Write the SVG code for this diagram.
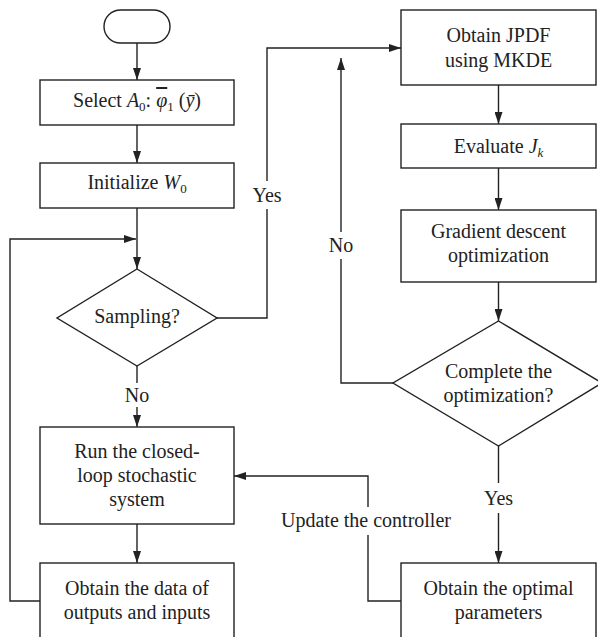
<svg xmlns="http://www.w3.org/2000/svg" width="598" height="637" viewBox="0 0 598 637">
<defs>
<marker id="ah" viewBox="0 0 12 8" refX="12" refY="4" markerWidth="12" markerHeight="8" markerUnits="userSpaceOnUse" orient="auto">
<path d="M0,0 L12,4 L0,8 Z" fill="#222"/>
</marker>
<style>
.s{fill:#fff;stroke:#222;stroke-width:1.4}
.c{fill:none;stroke:#222;stroke-width:1.4}
.a{marker-end:url(#ah)}
text{font-family:"Liberation Serif","Times New Roman",serif;font-size:20px;fill:#222;text-anchor:middle}
.i{font-style:italic}
.sub{font-size:13px}
.ov{text-decoration:overline}
</style>
</defs>
<rect width="598" height="637" fill="#fff"/>
<g id="connectors">
<path class="c a" d="M137,43 V80"/>
<path class="c a" d="M137,125 V163"/>
<path class="c a" d="M137,208 V269"/>
<path class="c a" d="M40,601 H10 V239 H136"/>
<path class="c" d="M217,318 H267 V209"/>
<path class="c a" d="M267,181 V48 H401"/>
<path class="c" d="M137,366 V383"/>
<path class="c a" d="M137,407 V427"/>
<path class="c a" d="M137,524 V563"/>
<path class="c a" d="M498.5,85 V124"/>
<path class="c a" d="M498.5,168 V210"/>
<path class="c a" d="M498.5,282 V321"/>
<path class="c" d="M393,383 H341 V259"/>
<path class="c a" d="M341,232 V58"/>
<path class="c" d="M498.5,446 V483"/>
<path class="c a" d="M498.5,513 V563"/>
<path class="c" d="M401,601 H368 V535"/>
<path class="c a" d="M368,507 V476 H234"/>
<text x="267" y="202">Yes</text>
<text x="137" y="402">No</text>
<text x="341" y="252">No</text>
<text x="498.5" y="505">Yes</text>
<text x="366" y="527">Update the controller</text>
</g>
<g id="start">
<rect class="s" x="104" y="10" width="66" height="33" rx="16.5"/>
</g>
<g id="select">
<rect class="s" x="40" y="80" width="194" height="45"/>
<text x="137" y="107">Select <tspan class="i">A</tspan><tspan class="sub" dy="4">0</tspan><tspan dy="-4">: </tspan><tspan class="i ov">φ</tspan><tspan class="sub" dy="4">1</tspan><tspan dy="-4"> (</tspan><tspan class="i">ȳ</tspan>)</text>
</g>
<g id="init">
<rect class="s" x="40" y="163" width="194" height="45"/>
<text x="137" y="189">Initialize <tspan class="i">W</tspan><tspan class="sub" dy="4">0</tspan></text>
</g>
<g id="sampling">
<polygon class="s" points="137,269 217,318 137,366 57,318"/>
<text x="137" y="323">Sampling?</text>
</g>
<g id="run">
<rect class="s" x="40" y="427" width="194" height="97"/>
<text x="137" y="458">Run the closed-</text>
<text x="137" y="482">loop stochastic</text>
<text x="137" y="506">system</text>
</g>
<g id="data">
<rect class="s" x="40" y="563" width="194" height="90"/>
<text x="137" y="595">Obtain the data of</text>
<text x="137" y="619">outputs and inputs</text>
</g>
<g id="jpdf">
<rect class="s" x="401" y="10" width="195" height="75"/>
<text x="498.5" y="42">Obtain JPDF</text>
<text x="498.5" y="67">using MKDE</text>
</g>
<g id="evaluate">
<rect class="s" x="401" y="124" width="195" height="44"/>
<text x="498.5" y="153">Evaluate <tspan class="i">J</tspan><tspan class="sub i" dy="4">k</tspan></text>
</g>
<g id="gradient">
<rect class="s" x="401" y="210" width="195" height="72"/>
<text x="498.5" y="238">Gradient descent</text>
<text x="498.5" y="262">optimization</text>
</g>
<g id="complete">
<polygon class="s" points="498.5,321 602,383 498.5,446 393,383"/>
<text x="498.5" y="378">Complete the</text>
<text x="498.5" y="402">optimization?</text>
</g>
<g id="optimal">
<rect class="s" x="401" y="563" width="195" height="90"/>
<text x="498.5" y="595">Obtain the optimal</text>
<text x="498.5" y="619">parameters</text>
</g>
</svg>
